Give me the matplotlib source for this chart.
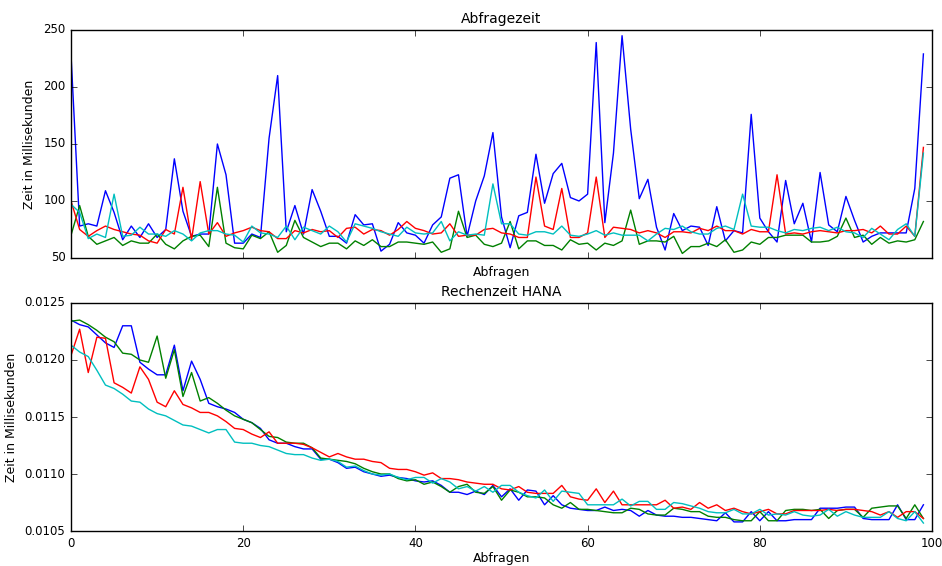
import matplotlib
matplotlib.use("Agg")
import matplotlib.pyplot as plt
from matplotlib.ticker import FormatStrFormatter

# Abfragezeit (ms), four runs
abfrage_b = [228, 78, 80, 78, 109, 90, 66, 78, 68, 80, 68, 75, 137, 91, 69, 71, 71, 150, 123, 63,
             63, 71, 68, 155, 210, 73, 96, 71, 110, 91, 69, 69, 63, 88, 79, 80, 56, 62, 81, 72,
             70, 63, 79, 86, 120, 123, 69, 100, 122, 160, 86, 59, 87, 90, 141, 98, 124, 133, 103, 100,
             106, 239, 81, 142, 245, 163, 102, 119, 77, 57, 89, 74, 78, 77, 61, 95, 65, 74, 72, 176,
             85, 73, 64, 118, 80, 98, 64, 125, 79, 73, 104, 83, 64, 69, 72, 72, 72, 72, 111, 229]
abfrage_g = [70, 96, 69, 62, 65, 68, 61, 65, 63, 63, 71, 62, 58, 65, 69, 70, 60, 112, 63, 59,
             58, 70, 67, 73, 55, 61, 83, 68, 64, 60, 63, 63, 58, 65, 61, 66, 60, 60, 64, 64,
             63, 62, 64, 55, 58, 91, 68, 70, 62, 60, 63, 82, 58, 65, 65, 61, 61, 57, 66, 62,
             63, 57, 63, 61, 65, 92, 62, 65, 65, 64, 69, 54, 60, 60, 63, 60, 66, 55, 57, 64,
             62, 68, 68, 70, 70, 70, 64, 64, 65, 69, 85, 68, 70, 62, 68, 63, 65, 64, 66, 82]
abfrage_r = [100, 75, 69, 74, 78, 75, 73, 71, 70, 65, 63, 75, 71, 112, 66, 117, 71, 81, 69, 72,
             74, 77, 74, 73, 67, 67, 74, 72, 75, 73, 74, 68, 76, 77, 71, 75, 74, 70, 75, 82,
             76, 74, 71, 72, 80, 69, 70, 70, 75, 76, 72, 71, 68, 68, 121, 78, 75, 111, 68, 68,
             72, 121, 68, 77, 76, 75, 72, 74, 72, 68, 73, 73, 72, 76, 74, 78, 74, 74, 71, 75,
             73, 73, 123, 71, 72, 71, 73, 74, 73, 72, 74, 74, 75, 72, 78, 71, 71, 78, 69, 147]
abfrage_c = [97, 90, 67, 71, 68, 106, 69, 70, 77, 71, 71, 69, 74, 71, 65, 72, 74, 74, 71, 70,
             64, 78, 72, 71, 68, 78, 66, 77, 74, 71, 78, 73, 64, 80, 78, 76, 73, 71, 69, 77,
             72, 71, 72, 82, 65, 73, 70, 71, 70, 115, 80, 80, 71, 70, 73, 73, 71, 78, 70, 69,
             71, 74, 70, 72, 70, 70, 70, 65, 71, 76, 75, 78, 73, 71, 71, 76, 78, 75, 106, 78,
             77, 77, 74, 72, 75, 74, 76, 77, 74, 77, 73, 72, 68, 76, 71, 66, 75, 80, 69, 142]

# Rechenzeit HANA (ms, in units of 1e-4)
hana_b = [123.5, 123.1, 122.9, 122.2, 121.5, 121.1, 123.0, 123.0, 119.8, 119.2,
          118.7, 118.7, 121.3, 117.3, 119.9, 118.3, 116.2, 115.9, 115.7, 115.4,
          114.8, 114.5, 114.0, 113.0, 112.7, 112.7, 112.4, 112.2, 112.2, 111.3,
          111.3, 111.0, 110.5, 110.6, 110.2, 110.0, 109.8, 109.9, 109.7, 109.6,
          109.4, 109.3, 109.4, 109.0, 108.4, 108.4, 108.2, 108.5, 108.2, 109.0,
          108.0, 108.7, 107.7, 108.6, 108.5, 107.3, 108.1, 107.3, 107.0, 106.9,
          106.8, 106.8, 107.1, 106.8, 106.9, 106.8, 106.3, 106.8, 106.4, 106.3,
          106.3, 106.2, 106.2, 106.1, 106.0, 105.9, 106.6, 105.8, 105.8, 106.7,
          105.9, 106.7, 105.9, 105.9, 106.0, 106.0, 106.0, 107.0, 107.0, 107.0,
          107.1, 107.1, 106.1, 106.0, 106.0, 106.0, 107.3, 106.0, 106.0, 107.3]
hana_g = [123.4, 123.5, 123.1, 122.6, 122.0, 121.6, 120.6, 120.5, 120.0, 119.8,
          122.1, 118.4, 120.9, 116.8, 118.9, 116.4, 116.7, 116.2, 115.6, 115.1,
          114.8, 114.5, 113.9, 113.3, 113.2, 112.8, 112.7, 112.7, 112.3, 111.4,
          111.3, 111.2, 111.1, 110.9, 110.5, 110.2, 110.0, 110.0, 109.6, 109.4,
          109.5, 109.1, 109.3, 108.9, 108.4, 108.9, 109.1, 108.4, 108.3, 108.9,
          107.7, 108.6, 108.4, 108.0, 108.0, 107.9, 107.3, 107.0, 107.5, 106.9,
          106.9, 106.8, 106.7, 106.6, 106.6, 107.0, 106.9, 106.5, 106.4, 106.4,
          107.0, 106.9, 106.7, 106.7, 106.3, 106.2, 106.2, 106.0, 105.9, 105.9,
          106.7, 105.9, 105.9, 106.8, 106.9, 106.9, 106.8, 106.9, 106.1, 106.8,
          106.9, 106.9, 106.2, 107.0, 107.1, 107.2, 107.2, 106.1, 107.3, 106.1]
hana_r = [120.4, 122.7, 118.9, 122.0, 121.9, 118.0, 117.6, 117.1, 119.4, 118.3,
          116.3, 115.9, 117.3, 116.1, 115.8, 115.4, 115.4, 115.1, 114.6, 114.0,
          113.9, 113.5, 113.2, 113.7, 112.7, 112.7, 112.7, 112.6, 112.3, 111.9,
          111.5, 111.8, 111.5, 111.3, 111.3, 111.1, 111.0, 110.5, 110.4, 110.4,
          110.2, 109.9, 110.1, 109.6, 109.6, 109.5, 109.3, 109.2, 109.1, 109.1,
          108.7, 108.6, 108.9, 108.4, 108.3, 108.3, 108.3, 109.0, 108.0, 107.8,
          107.7, 108.7, 107.5, 108.5, 107.3, 107.3, 107.3, 107.3, 107.3, 107.7,
          107.0, 107.1, 106.9, 107.5, 107.0, 107.3, 106.8, 107.0, 106.7, 106.5,
          106.7, 106.9, 106.5, 106.5, 106.8, 106.8, 106.8, 106.8, 106.9, 106.8,
          106.9, 106.9, 106.8, 106.7, 106.4, 106.7, 106.2, 106.7, 106.7, 106.1]
hana_c = [121.3, 120.7, 120.3, 119.1, 117.8, 117.5, 117.0, 116.4, 116.3, 115.7,
          115.3, 115.1, 114.7, 114.3, 114.2, 113.9, 113.6, 113.9, 113.9, 112.8,
          112.7, 112.7, 112.5, 112.4, 112.1, 111.8, 111.7, 111.7, 111.4, 111.2,
          111.3, 111.1, 110.6, 110.7, 110.3, 110.0, 109.9, 110.0, 109.7, 109.5,
          109.7, 109.7, 109.2, 109.6, 109.3, 108.7, 108.9, 108.5, 108.9, 108.4,
          109.0, 109.0, 108.4, 108.1, 107.9, 108.6, 107.6, 108.5, 108.4, 108.3,
          107.3, 107.3, 107.3, 107.3, 107.8, 107.2, 107.6, 107.6, 106.9, 106.9,
          107.5, 107.4, 107.2, 107.0, 106.7, 106.6, 106.6, 106.9, 106.5, 106.5,
          106.9, 106.4, 106.5, 106.4, 106.7, 106.4, 106.3, 106.4, 106.9, 106.3,
          106.7, 106.4, 106.2, 106.2, 106.2, 106.7, 106.1, 105.9, 106.7, 105.7]

x = list(range(len(abfrage_b)))

plt.style.use('classic')
plt.rcParams['font.size'] = 9
plt.rcParams['xtick.labelsize'] = 8.5
plt.rcParams['ytick.labelsize'] = 8.5

fig = plt.figure(figsize=(9.42, 5.66), dpi=100, facecolor='white')
ax1 = fig.add_axes([0.0754, 0.5442, 0.914, 0.4028])
ax2 = fig.add_axes([0.0754, 0.0618, 0.914, 0.4029])

for y, c in [(abfrage_b, 'b'), (abfrage_g, 'g'), (abfrage_r, 'r'), (abfrage_c, 'c')]:
    ax1.plot(x, y, color=c, linewidth=1.0)
ax1.set_xlim(0, 100)
ax1.set_ylim(50, 250)
ax1.set_xticks([0, 20, 40, 60, 80, 100])
ax1.set_xticklabels([])
ax1.set_yticks([50, 100, 150, 200, 250])
ax1.set_title("Abfragezeit", fontsize=10)
ax1.set_xlabel("Abfragen", labelpad=2)
ax1.set_ylabel("Zeit in Millisekunden")

for y, c in [(hana_b, 'b'), (hana_g, 'g'), (hana_r, 'r'), (hana_c, 'c')]:
    ax2.plot(x, [v * 1e-4 for v in y], color=c, linewidth=1.0)
ax2.set_xlim(0, 100)
ax2.set_ylim(0.0105, 0.0125)
ax2.set_xticks([0, 20, 40, 60, 80, 100])
ax2.set_yticks([0.0105, 0.0110, 0.0115, 0.0120, 0.0125])
ax2.yaxis.set_major_formatter(FormatStrFormatter('%.4f'))
ax2.set_title("Rechenzeit HANA", fontsize=10)
ax2.set_xlabel("Abfragen", labelpad=2)
ax2.set_ylabel("Zeit in Millisekunden")

fig.savefig("out.png", dpi=100, facecolor='white')
